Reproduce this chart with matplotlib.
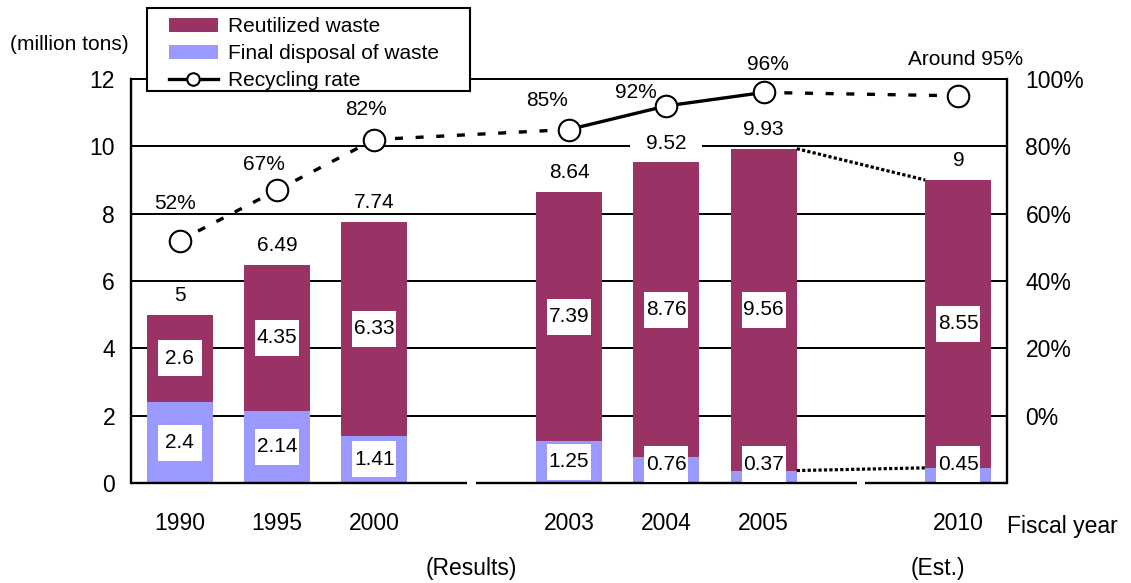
import matplotlib
matplotlib.use("Agg")
import matplotlib.pyplot as plt
from matplotlib.patches import Rectangle, Patch
from matplotlib.lines import Line2D
from matplotlib.transforms import ScaledTranslation, blended_transform_factory

plt.rcParams["font.family"] = ["Liberation Sans", "DejaVu Sans"]

# ---- data -------------------------------------------------------------
years = ["1990", "1995", "2000", "2003", "2004", "2005", "2010"]
reutilized = [2.6, 4.35, 6.33, 7.39, 8.76, 9.56, 8.55]          # million tons
final_disposal = [2.4, 2.14, 1.41, 1.25, 0.76, 0.37, 0.45]      # million tons
totals = [5, 6.49, 7.74, 8.64, 9.52, 9.93, 9]                    # million tons
recycling_rate = [52, 67, 82, 85, 92, 96, 95]                    # percent
rate_labels = ["52%", "67%", "82%", "85%", "92%", "96%", "Around 95%"]
left_ticks = [0, 2, 4, 6, 8, 10, 12]
right_ticks = [0, 20, 40, 60, 80, 100]

# ---- layout / style ---------------------------------------------------
slots = [0, 1, 2, 4, 5, 6, 8]          # empty slots separate the result years and the estimate
axis_breaks = [3.0, 7.0]                # where the baseline is interrupted
segment_solid = [False, False, False, True, True, False]
pct_offsets = [(-3, 26.6), (-9.4, 18.7), (-5.8, 22), (-15.5, 21.2),
               (-21.6, 10), (2.9, 20.2), (5, 26)]
PURPLE = "#993366"
BLUE = "#9999FF"
BAR_W = 0.68
W, H = 1131, 583

fig = plt.figure(figsize=(W / 100, H / 100), dpi=100)
ax = fig.add_axes([131 / W, 1 - 483 / H, (1007 - 131) / W, (483 - 79) / H])
ax.set_xlim(-0.5, 8.5)
ax.set_ylim(0, 12)


def white_box(x, y, w_in, h_in, dy_pt=0.0, zorder=4):
    """White rectangle of fixed size (inches) centred on a data point."""
    tr = fig.dpi_scale_trans + ScaledTranslation(x, y, ax.transData)
    ax.add_patch(Rectangle((-w_in / 2, -h_in / 2 + dy_pt / 72), w_in, h_in,
                           transform=tr, facecolor="white", edgecolor="none",
                           zorder=zorder))


# horizontal grid (the 0 line is drawn separately with its breaks)
for y in left_ticks[1:]:
    ax.axhline(y, color="black", lw=1.4, zorder=1)

# stacked bars
ax.bar(slots, final_disposal, width=BAR_W, color=BLUE, zorder=2)
ax.bar(slots, reutilized, bottom=final_disposal, width=BAR_W, color=PURPLE, zorder=2)

# broken baseline
half = 0.045
edges = [-0.5] + [e for c in axis_breaks for e in (c - half, c + half)] + [8.5]
ax.hlines([0] * (len(edges) // 2), edges[::2], edges[1::2], color="black",
          lw=1.7, zorder=3, clip_on=False)

# dotted connectors between 2005 and the 2010 estimate
ax.plot([slots[5] + BAR_W / 2, slots[6] - BAR_W / 2], [totals[5], totals[6]],
        color="black", lw=2.3, ls=(0, (1, 0.7)), zorder=3)
ax.plot([slots[5] + BAR_W / 2, slots[6] - BAR_W / 2],
        [final_disposal[5], final_disposal[6]],
        color="black", lw=2.3, ls=(0, (1, 0.7)), zorder=3)

# value labels inside the bars
for x, f, r in zip(slots, final_disposal, reutilized):
    for y, v in ((f + r / 2, r), (max(f / 2, 0.55), f)):
        white_box(x, y, 0.44, 0.36)
        ax.text(x, y, f"{v:g}", ha="center", va="center", fontsize=15, zorder=5)

# totals above the bars
for x, t in zip(slots, totals):
    white_box(x, t, 0.72, 0.16, dy_pt=14)
    ax.annotate(f"{t:g}", (x, t), xytext=(0, 14), textcoords="offset points",
                ha="center", va="center", fontsize=15, zorder=5)

# axes styling
for side in ("bottom", "right"):
    ax.spines[side].set_visible(False)
ax.spines["left"].set_linewidth(1.7)
ax.spines["top"].set_linewidth(1.4)
ax.set_yticks(left_ticks)
ax.set_xticks(slots, years)
ax.tick_params(axis="y", length=0, pad=11.5, labelsize=16.5)
ax.tick_params(axis="x", length=0, pad=21, labelsize=16.5)

# recycling rate on the right-hand axis
ax2 = ax.twinx()
ax2.set_ylim(-20, 100)
ax2.set_yticks(right_ticks, [f"{t}%" for t in right_ticks])
ax2.tick_params(axis="y", length=0, pad=13.3, labelsize=16.5)
for side in ("left", "top", "bottom"):
    ax2.spines[side].set_visible(False)
ax2.spines["right"].set_linewidth(1.7)

for i in range(len(slots) - 1):
    ls = "-" if segment_solid[i] else (0, (2.4, 3.8))
    ax2.plot(slots[i:i + 2], recycling_rate[i:i + 2], color="black", lw=2.4,
             ls=ls, zorder=3)
ax2.plot(slots, recycling_rate, ls="none", marker="o", ms=15.5, mfc="white",
         mec="black", mew=1.5, zorder=4)
for x, r, lab, off in zip(slots, recycling_rate, rate_labels, pct_offsets):
    ax2.annotate(lab, (x, r), xytext=off, textcoords="offset points",
                 ha="center", va="center", fontsize=15, zorder=5)

# surrounding texts
fig.text(69.5 / W, 1 - 44 / H, "(million tons)", ha="center", va="center", fontsize=15)
fig.text(1007 / W, 1 - 527 / H, "Fiscal year", ha="left", va="center", fontsize=16.5)
bt = blended_transform_factory(ax.transData, fig.transFigure)
ax.text(3.0, 1 - 568 / H, "(Results)", transform=bt, ha="center", va="center",
        fontsize=16.5, clip_on=False)
ax.text(7.79, 1 - 568 / H, "(Est.)", transform=bt, ha="center", va="center",
        fontsize=16.5, clip_on=False)

# legend with a square frame
fig.add_artist(Rectangle((147 / W, 1 - 91 / H), (470 - 147) / W, (91 - 8) / H,
                         transform=fig.transFigure, facecolor="white",
                         edgecolor="black", lw=1.5, zorder=5))
handles = [Patch(facecolor=PURPLE, edgecolor="none"),
           Patch(facecolor=BLUE, edgecolor="none"),
           Line2D([], [], color="black", lw=2.4, marker="o", ms=9,
                  mfc="white", mec="black", mew=1.5)]
fig.legend(handles, ["Reutilized waste", "Final disposal of waste", "Recycling rate"],
           loc="upper left", bbox_to_anchor=(169 / W, 1 - 17 / H), frameon=False,
           fontsize=15, handlelength=2.35, handleheight=0.65, handletextpad=0.5,
           labelspacing=0.38, borderpad=0, borderaxespad=0)

fig.savefig("out.png", dpi=100)
